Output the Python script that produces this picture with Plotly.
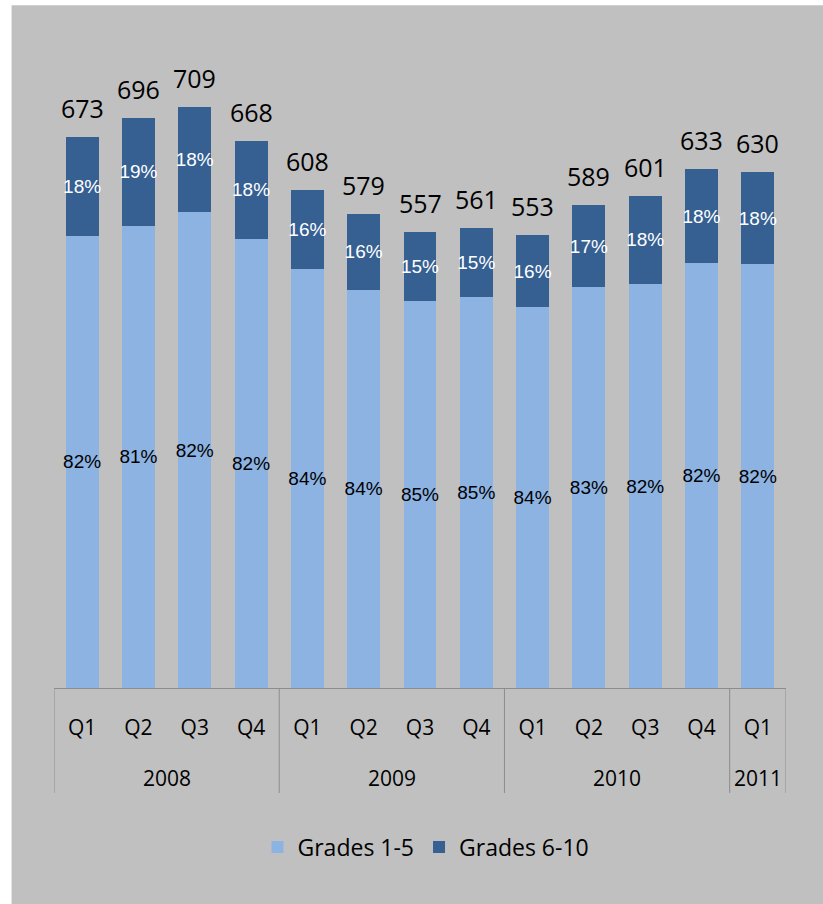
import plotly.graph_objects as go

years = ["2008", "2008", "2008", "2008", "2009", "2009", "2009", "2009",
         "2010", "2010", "2010", "2010", "2011"]
quarters = ["Q1", "Q2", "Q3", "Q4", "Q1", "Q2", "Q3", "Q4",
            "Q1", "Q2", "Q3", "Q4", "Q1"]
totals = [673, 696, 709, 668, 608, 579, 557, 561, 553, 589, 601, 633, 630]
grades_1_5 = [552, 564, 581, 548, 511, 486, 473, 477, 465, 489, 493, 519, 517]
grades_6_10 = [121, 132, 128, 120, 97, 93, 84, 84, 88, 100, 108, 114, 113]
pct_1_5 = [82, 81, 82, 82, 84, 84, 85, 85, 84, 83, 82, 82, 82]
pct_6_10 = [18, 19, 18, 18, 16, 16, 15, 15, 16, 17, 18, 18, 18]

LIGHT = "#8DB3E2"
DARK = "#366092"
BG = "#C0C0C0"
AXIS = "#8C8C8C"

W, H = 823, 904
L, R = 53.5, 786.5
BASE, TOP = 688.0, 48.8
pw, ph = R - L, BASE - TOP

def px2x(p):
    return (p - L) / pw

def px2y(p):
    return (BASE - p) / ph

cats = [f"{y} {q}" for y, q in zip(years, quarters)]

fig = go.Figure()
fig.add_trace(go.Bar(
    x=cats, y=grades_1_5, name="Grades 1-5",
    marker=dict(color=LIGHT, line=dict(width=0)),
    text=[f"{v}%" for v in pct_1_5], textposition="inside",
    insidetextanchor="middle", constraintext="none", textangle=0,
    insidetextfont=dict(family="Liberation Sans", size=19, color="black"),
    hoverinfo="skip",
))
fig.add_trace(go.Bar(
    x=cats, y=grades_6_10, name="Grades 6-10",
    marker=dict(color=DARK, line=dict(width=0)),
    text=[f"{v}%" for v in pct_6_10], textposition="inside",
    insidetextanchor="middle", constraintext="none", textangle=0,
    insidetextfont=dict(family="Liberation Sans", size=19, color="white"),
    hoverinfo="skip",
))

annotations = []
for i, t in enumerate(totals):
    annotations.append(dict(
        x=i, y=t, xref="x", yref="y", text=str(t), showarrow=False,
        yanchor="bottom", xanchor="center", yshift=10,
        font=dict(family="Open Sans", size=25, color="black"),
    ))

# year groups: labels centred under their quarters, dividers at group edges
groups = []
for i, y in enumerate(years):
    if not groups or groups[-1][0] != y:
        groups.append([y, i, i])
    else:
        groups[-1][2] = i

shapes = [dict(type="rect", xref="paper", yref="paper",
               x0=px2x(11), x1=px2x(W + 5), y0=px2y(H + 5), y1=px2y(5),
               fillcolor=BG, line=dict(width=0), layer="below")]
edges = [groups[0][1] - 0.5] + [g[2] + 0.5 for g in groups]
for e in edges:
    shapes.append(dict(type="line", xref="x", yref="paper",
                       x0=e, x1=e, y0=0, y1=px2y(793),
                       line=dict(color=AXIS, width=1)))
for name, a, b in groups:
    annotations.append(dict(
        x=(a + b) / 2, y=px2y(778), xref="x", yref="paper", text=name,
        showarrow=False, xanchor="center", yanchor="middle",
        font=dict(family="Open Sans", size=21, color="black"),
    ))

fig.update_layout(
    width=W, height=H,
    barmode="stack", bargap=0.415,
    paper_bgcolor="white", plot_bgcolor="rgba(0,0,0,0)",
    margin=dict(l=L, r=W - R, t=TOP, b=H - BASE, autoexpand=False),
    font=dict(family="Open Sans", color="black"),
    annotations=annotations,
    shapes=shapes,
    xaxis=dict(type="category", showline=True, linecolor=AXIS, linewidth=1,
               tickmode="array", tickvals=cats, ticktext=quarters,
               ticks="", ticklabelstandoff=21,
               tickfont=dict(family="Open Sans", size=21, color="black"),
               showgrid=False, zeroline=False, range=[-0.5, 12.5]),
    yaxis=dict(visible=False, range=[0, 780]),
    legend=dict(orientation="h", x=px2x(426), xanchor="center",
                y=px2y(847), yanchor="middle", traceorder="normal",
                font=dict(family="Open Sans", size=23, color="black"),
                bgcolor="rgba(0,0,0,0)"),
    showlegend=True,
)

fig.write_html("out.html", config={"displayModeBar": False},
               post_script="document.body.style.margin='0px';")
